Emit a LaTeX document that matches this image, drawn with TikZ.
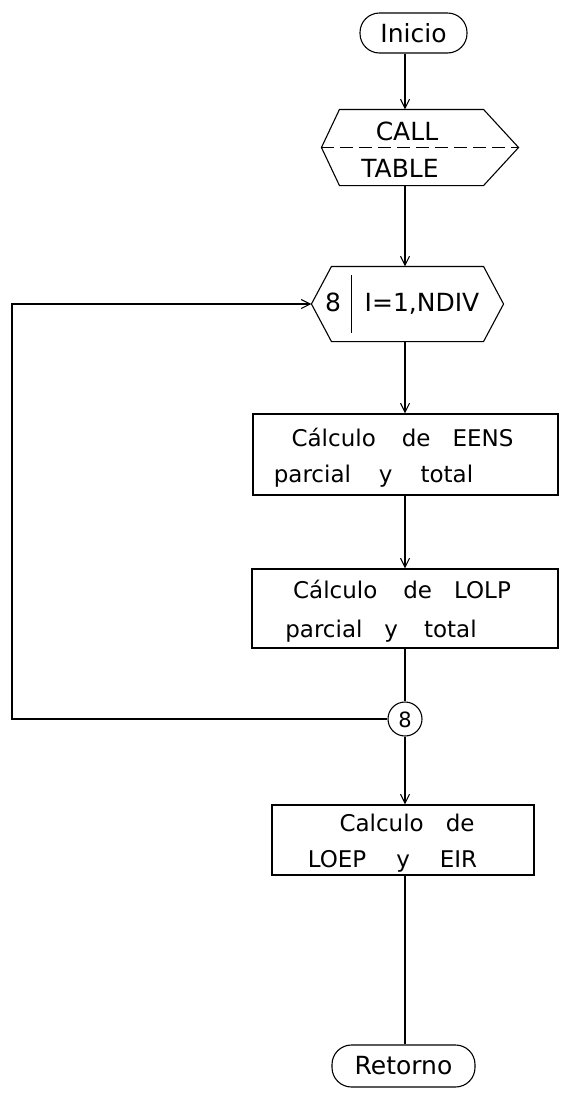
\documentclass[tikz,border=0pt]{standalone}
\usepackage{fontspec}
\setmainfont{DejaVu Sans}
\usetikzlibrary{arrows.meta}
\begin{document}
\begin{tikzpicture}[x=1bp,y=-1bp,line width=1.1bp,
  flow/.style={-{Straight Barb[length=9bp,width=9bp]}},
  shapebox/.style={draw=none,inner sep=0},
  procbox/.style={draw,inner sep=0},
  term/.style={draw,rounded corners=19.5bp,inner sep=0,font=\fontsize{25bp}{29bp}\selectfont},
  lab/.style={anchor=base,inner sep=0,font=\fontsize{23bp}{27bp}\selectfont},
  biglab/.style={anchor=base,inner sep=0,font=\fontsize{25bp}{29bp}\selectfont},
  numlab/.style={anchor=base,inner sep=0,font=\fontsize{21bp}{25bp}\selectfont},
]
\useasboundingbox (0,0) rectangle (562,1096);
\coordinate (axis) at (405,0);
\coordinate (lc) at (12,0);

% terminals
\node[term,minimum width=107bp,minimum height=40bp] (inicio) at (413.5,33) {Inicio};
\node[term,minimum width=143bp,minimum height=42bp] (retorno) at (403.5,1066) {Retorno};

% CALL TABLE hexagon
\node[shapebox,minimum width=196bp,minimum height=75bp] (call) at (420,147.5) {};
\draw (call.west) -- ([xshift=18bp]call.north west) -- ([xshift=-35bp]call.north east)
  -- (call.east) -- ([xshift=-35bp]call.south east) -- ([xshift=18bp]call.south west) -- cycle;
\draw[dash pattern=on 13bp off 6bp] (call.west) -- (call.east);
\node[biglab] (calltxt) at (407,140) {CALL};
\node[biglab] (tabletxt) at (400,177) {TABLE};

% loop hexagon
\node[shapebox,minimum width=191bp,minimum height=74bp] (loop) at (407.5,304) {};
\draw (loop.west) -- ([xshift=20bp]loop.north west) -- ([xshift=-20bp]loop.north east)
  -- (loop.east) -- ([xshift=-20bp]loop.south east) -- ([xshift=20bp]loop.south west) -- cycle;
\draw ([xshift=40bp,yshift=29bp]loop.west) -- ([xshift=40bp,yshift=-29bp]loop.west);
\node[biglab] (loopnum) at (333,311) {8};
\node[biglab] (looptxt) at (422,311) {I=1,NDIV};

% process boxes
\node[procbox,minimum width=305bp,minimum height=81bp] (eens) at (405.5,454.5) {};
\node[lab] (eens1) at (402.5,446) {Cálculo\hspace{26bp}de\hspace{22bp}EENS};
\node[lab] (eens2) at (373.5,482) {parcial\hspace{28bp}y\hspace{28bp}total};

\node[procbox,minimum width=306bp,minimum height=79bp] (lolp) at (405,608.5) {};
\node[lab] (lolp1) at (402,598) {Cálculo\hspace{26bp}de\hspace{22bp}LOLP};
\node[lab] (lolp2) at (381,637) {parcial\hspace{22bp}y\hspace{26bp}total};

\node[draw,circle,inner sep=0,minimum size=34bp] (conn) at (405,719) {};
\node[numlab] (conntxt) at (405,727) {8};

\node[procbox,minimum width=262bp,minimum height=70bp] (loep) at (403,840) {};
\node[lab] (loep1) at (407,831) {Calculo\hspace{22bp}de};
\node[lab] (loep2) at (392.5,867) {LOEP\hspace{30bp}y\hspace{30bp}EIR};

% connectors
\draw[flow] (inicio.south -| axis) -- (call.north -| axis);
\draw[flow] (call.south -| axis) -- (loop.north -| axis);
\draw[flow] (loop.south -| axis) -- (eens.north -| axis);
\draw[flow] (eens.south -| axis) -- (lolp.north -| axis);
\draw (lolp.south -| axis) -- (conn.north);
\draw[flow] (conn.south) -- (loep.north -| axis);
\draw (loep.south -| axis) -- (retorno.north -| axis);
\draw[flow] (conn.west) -- (conn.west -| lc) -- (loop.west -| lc) -- (loop.west);
\end{tikzpicture}
\end{document}
